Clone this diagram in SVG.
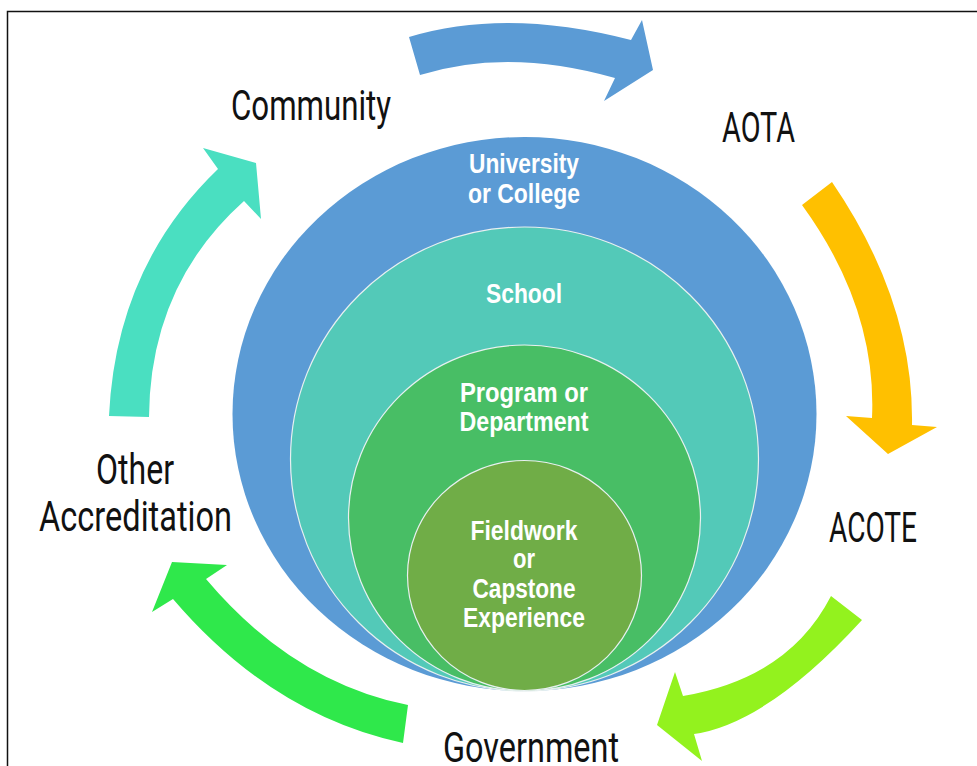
<svg xmlns="http://www.w3.org/2000/svg" width="977" height="766" viewBox="0 0 977 766">
<style>
.lbl{font-family:Roboto,"Liberation Sans",sans-serif;font-size:42px;fill:#111;font-weight:400}
.in{font-family:"Liberation Sans",Arial,sans-serif;font-size:27px;font-weight:bold;fill:#fff;text-anchor:middle}
.ring{stroke:#e8f0f0;stroke-width:1.2}
</style>
<rect x="7.5" y="11.5" width="990" height="780" fill="#fff" stroke="#111" stroke-width="1.5"/>
<g id="connectors">
<path id="arrow-blue" d="M409,37 Q506,7.5 631,40 L642,20 L653,70 L604,101 L615,78 Q508,47.5 420,75 Z" fill="#5B9BD5"/>
<path id="arrow-yellow" d="M832,182 Q914,302 912,425 L937,427 L888,454 L846,416 L872,418 Q877,308 802,205 Z" fill="#FFC000"/>
<path id="arrow-lime" d="M831,596 L862,620 Q768,723 694,734 L702,761 L657,725 L675,672 L683,696 Q789,678 831,596 Z" fill="#93F21E"/>
<path id="arrow-green" d="M408,705 L403,743 Q272,715 173,599 L152,612 L172,562 L227,565 L206,579 Q293,682 408,705 Z" fill="#2FE84B"/>
<path id="arrow-teal" d="M109,416 Q116,267 218,169 L203,148 L256,163 L261,219 L244,201 Q150,285 149,417 Z" fill="#4ADFC1"/>
</g>
<g id="university">
<ellipse cx="524.5" cy="414" rx="292" ry="277" fill="#5B9BD5"/>
<text class="in" x="524" y="173" textLength="110" lengthAdjust="spacingAndGlyphs">University</text>
<text class="in" x="524" y="203" textLength="112" lengthAdjust="spacingAndGlyphs">or College</text>
</g>
<g id="school">
<ellipse class="ring" cx="524.5" cy="459" rx="234" ry="232" fill="#53C9B8"/>
<text class="in" x="524" y="303" textLength="76" lengthAdjust="spacingAndGlyphs">School</text>
</g>
<g id="program">
<ellipse class="ring" cx="524.5" cy="518" rx="176" ry="173" fill="#48BE65"/>
<text class="in" x="524" y="402" textLength="128" lengthAdjust="spacingAndGlyphs">Program or</text>
<text class="in" x="524" y="431" textLength="129" lengthAdjust="spacingAndGlyphs">Department</text>
</g>
<g id="fieldwork">
<ellipse class="ring" cx="524.5" cy="575.5" rx="117" ry="115" fill="#70AD47"/>
<text class="in" x="524" y="540" textLength="107" lengthAdjust="spacingAndGlyphs">Fieldwork</text>
<text class="in" x="524" y="568" textLength="22" lengthAdjust="spacingAndGlyphs">or</text>
<text class="in" x="524" y="598" textLength="103" lengthAdjust="spacingAndGlyphs">Capstone</text>
<text class="in" x="524" y="627" textLength="122" lengthAdjust="spacingAndGlyphs">Experience</text>
</g>
<g id="community"><text class="lbl" x="231" y="120" textLength="160" lengthAdjust="spacingAndGlyphs">Community</text></g>
<g id="aota"><text class="lbl" x="722" y="142" textLength="73" lengthAdjust="spacingAndGlyphs">AOTA</text></g>
<g id="acote"><text class="lbl" x="829" y="542" textLength="88" lengthAdjust="spacingAndGlyphs">ACOTE</text></g>
<g id="government"><text class="lbl" x="443" y="762" textLength="176" lengthAdjust="spacingAndGlyphs">Government</text></g>
<g id="other-accreditation">
<text class="lbl" x="96" y="484" textLength="78" lengthAdjust="spacingAndGlyphs">Other</text>
<text class="lbl" x="39" y="531" textLength="193" lengthAdjust="spacingAndGlyphs">Accreditation</text>
</g>
</svg>
